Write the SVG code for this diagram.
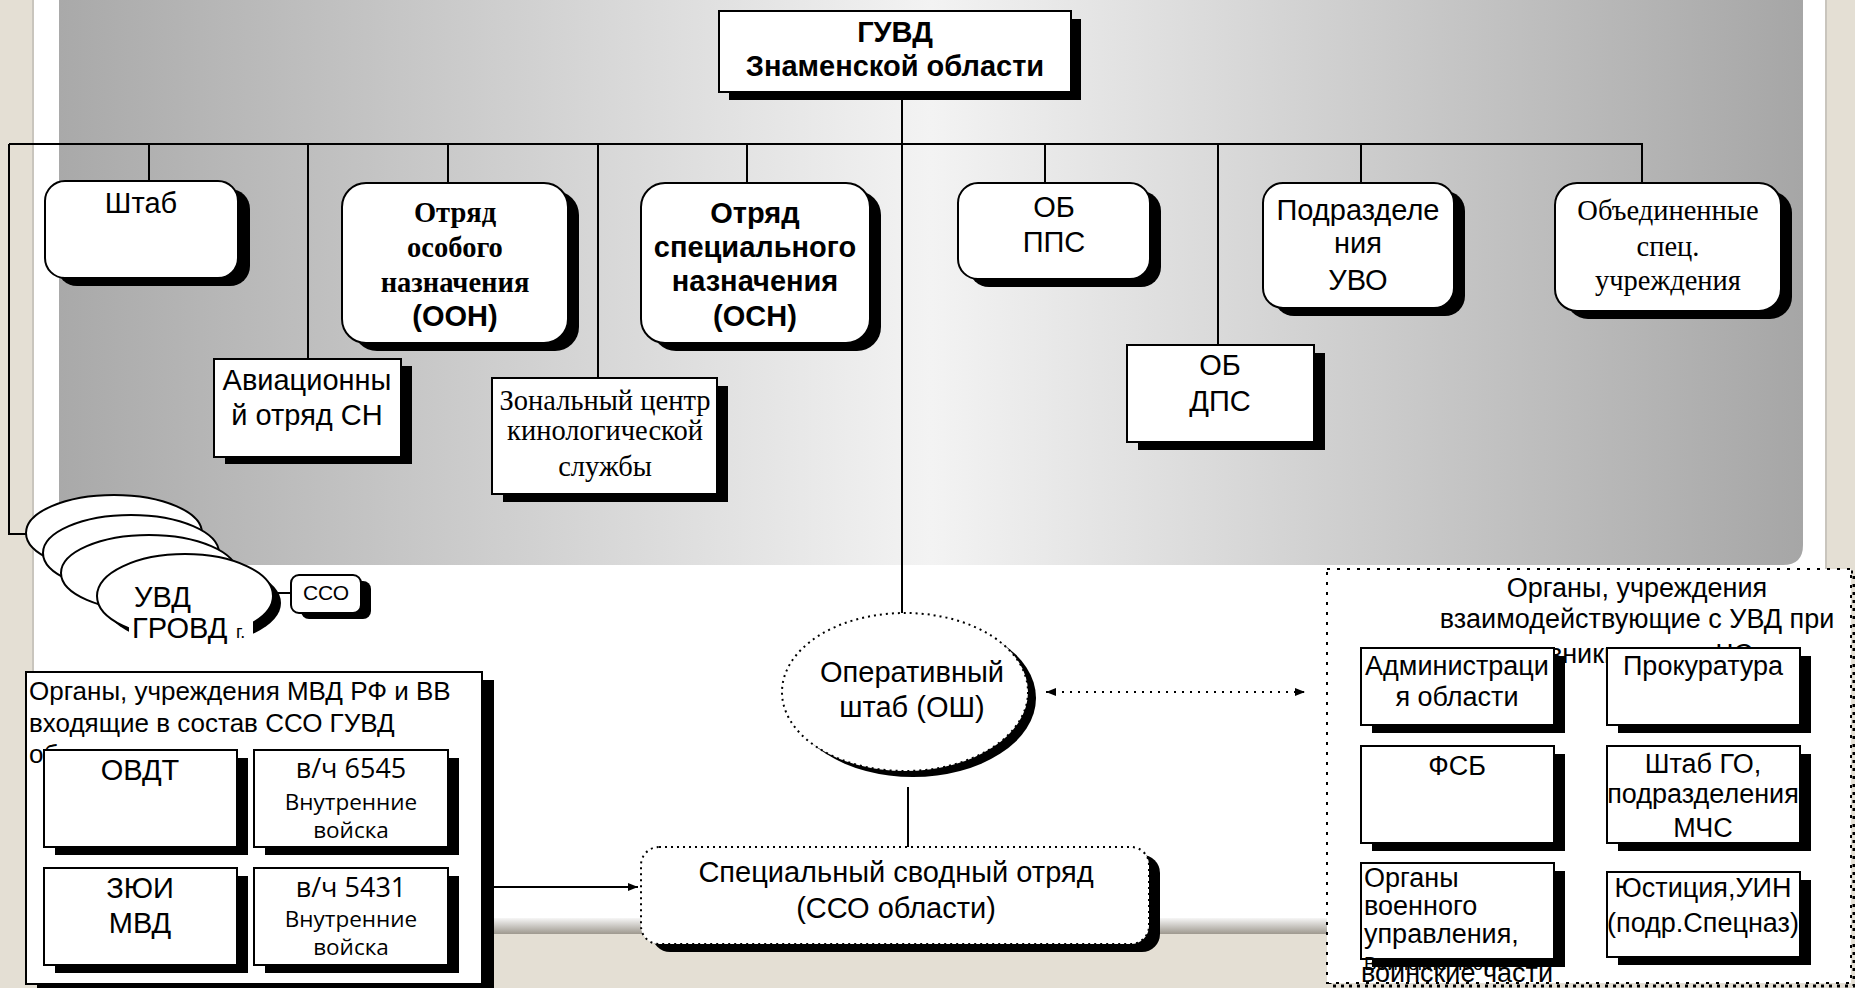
<svg xmlns="http://www.w3.org/2000/svg" width="1855" height="988" viewBox="0 0 1855 988">
<defs>
<linearGradient id="panel" x1="0" y1="0" x2="1" y2="0">
<stop offset="0" stop-color="#a9a9a9"/>
<stop offset="0.5" stop-color="#f3f3f3"/>
<stop offset="1" stop-color="#a6a6a6"/>
</linearGradient>
<linearGradient id="btm" x1="0" y1="0" x2="0" y2="1">
<stop offset="0" stop-color="#f6f6f6"/>
<stop offset="1" stop-color="#9e998f"/>
</linearGradient>
<marker id="ah" viewBox="0 0 10 8" refX="10" refY="4" markerWidth="10" markerHeight="8" markerUnits="userSpaceOnUse" orient="auto-start-reverse">
<path d="M0,0 L10,4 L0,8 Z" fill="#000"/>
</marker>
<style>
.box{fill:#fff;stroke:#000;stroke-width:2}
.dot{fill:#fff;stroke:#000;stroke-width:2;stroke-dasharray:2 4}
.sh{fill:#000}
.ln{stroke:#000;stroke-width:2;fill:none}
.dl{stroke:#000;stroke-width:2;fill:none;stroke-dasharray:2 6}
text{fill:#000}
.s{font-family:"Liberation Sans",Arial,sans-serif;font-size:29px;text-anchor:middle}
.sb{font-family:"Liberation Sans",Arial,sans-serif;font-size:29px;font-weight:bold;text-anchor:middle}
.r{font-family:"Liberation Serif","Times New Roman",serif;font-size:28.5px;text-anchor:middle}
.rb{font-family:"Liberation Serif","Times New Roman",serif;font-size:28.5px;font-weight:bold;text-anchor:middle}
.m{font-family:"Liberation Sans",Arial,sans-serif;font-size:27px;text-anchor:middle}
.c{font-family:"Open Sans","Noto Sans",sans-serif;text-anchor:middle}
</style>
</defs>

<!-- background -->
<rect x="0" y="0" width="1855" height="988" fill="#e4dfd4"/>
<rect x="33" y="0" width="1792" height="918" fill="#fff"/>
<rect x="33" y="918" width="1792" height="16" fill="url(#btm)"/>
<line x1="33" y1="0" x2="33" y2="934" stroke="#c9c5bd" stroke-width="2"/>
<line x1="1826" y1="0" x2="1826" y2="934" stroke="#c9c5bd" stroke-width="2"/>
<path d="M59,0 H1803 V545 Q1803,565 1783,565 H59 Z" fill="url(#panel)"/>

<!-- connectors -->
<g id="connectors">
<line class="ln" x1="9" y1="144" x2="1642" y2="144"/>
<line class="ln" x1="902" y1="92" x2="902" y2="613"/>
<polyline class="ln" points="9,144 9,534 26,534"/>
<line class="ln" x1="149" y1="144" x2="149" y2="181"/>
<line class="ln" x1="308" y1="144" x2="308" y2="359"/>
<line class="ln" x1="448" y1="144" x2="448" y2="183"/>
<line class="ln" x1="598" y1="144" x2="598" y2="378"/>
<line class="ln" x1="747" y1="144" x2="747" y2="183"/>
<line class="ln" x1="1045" y1="144" x2="1045" y2="183"/>
<line class="ln" x1="1218" y1="144" x2="1218" y2="345"/>
<line class="ln" x1="1361" y1="144" x2="1361" y2="183"/>
<line class="ln" x1="1642" y1="143" x2="1642" y2="183"/>
<line class="ln" x1="273" y1="593" x2="291" y2="593"/>
<line class="ln" x1="908" y1="787" x2="908" y2="847"/>
<line class="ln" x1="482" y1="887" x2="638" y2="887" marker-end="url(#ah)"/>
<line class="dl" x1="1046" y1="692" x2="1305" y2="692" marker-start="url(#ah)" marker-end="url(#ah)"/>
</g>

<g id="guvd">
<rect class="sh" x="729" y="19" width="352" height="81"/>
<rect class="box" x="719" y="11" width="352" height="81"/>
<text class="sb" x="895" y="42">ГУВД</text>
<text class="sb" x="895" y="76">Знаменской области</text>
</g>

<g id="shtab">
<rect class="sh" x="57" y="189" width="193" height="97" rx="20"/>
<rect class="box" x="45" y="181" width="193" height="97" rx="20"/>
<text class="s" x="141" y="213">Штаб</text>
</g>

<g id="oon">
<rect class="sh" x="353" y="191" width="226" height="160" rx="24"/>
<rect class="box" x="342" y="183" width="226" height="160" rx="24"/>
<text class="rb" x="455" y="222">Отряд</text>
<text class="rb" x="455" y="257">особого</text>
<text class="rb" x="455" y="292">назначения</text>
<text class="sb" x="455" y="326">(ООН)</text>
</g>

<g id="osn">
<rect class="sh" x="652" y="191" width="229" height="160" rx="24"/>
<rect class="box" x="641" y="183" width="229" height="160" rx="24"/>
<text class="sb" x="755" y="223">Отряд</text>
<text class="sb" x="755" y="257">специального</text>
<text class="sb" x="755" y="291">назначения</text>
<text class="sb" x="755" y="326">(ОСН)</text>
</g>

<g id="obpps">
<rect class="sh" x="969" y="191" width="192" height="96" rx="20"/>
<rect class="box" x="958" y="183" width="192" height="96" rx="20"/>
<text class="s" x="1054" y="217">ОБ</text>
<text class="s" x="1054" y="252">ППС</text>
</g>

<g id="uvo">
<rect class="sh" x="1274" y="191" width="191" height="125" rx="20"/>
<rect class="box" x="1263" y="183" width="191" height="125" rx="20"/>
<text class="s" x="1358" y="220">Подразделе</text>
<text class="s" x="1358" y="253">ния</text>
<text class="s" x="1358" y="290">УВО</text>
</g>

<g id="obspec">
<rect class="sh" x="1566" y="191" width="226" height="128" rx="22"/>
<rect class="box" x="1555" y="183" width="226" height="128" rx="22"/>
<text class="r" x="1668" y="220">Объединенные</text>
<text class="r" x="1668" y="256">спец.</text>
<text class="r" x="1668" y="290">учреждения</text>
</g>

<g id="avia">
<rect class="sh" x="225" y="366" width="187" height="98"/>
<rect class="box" x="214" y="359" width="187" height="98"/>
<text class="s" x="307" y="390">Авиационны</text>
<text class="s" x="307" y="425">й отряд СН</text>
</g>

<g id="kinolog">
<rect class="sh" x="503" y="386" width="225" height="116"/>
<rect class="box" x="492" y="378" width="225" height="116"/>
<text class="r" x="605" y="410">Зональный центр</text>
<text class="r" x="605" y="440">кинологической</text>
<text class="r" x="605" y="476">службы</text>
</g>

<g id="obdps">
<rect class="sh" x="1138" y="353" width="187" height="97"/>
<rect class="box" x="1127" y="345" width="187" height="97"/>
<text class="s" x="1220" y="375">ОБ</text>
<text class="s" x="1220" y="411">ДПС</text>
</g>

<g id="uvd">
<ellipse class="box" cx="114" cy="533" rx="88" ry="38"/>
<ellipse class="box" cx="131" cy="553" rx="88" ry="38"/>
<ellipse class="box" cx="149" cy="573" rx="88" ry="38"/>
<ellipse class="sh" cx="193" cy="603" rx="88" ry="42"/>
<ellipse class="box" cx="185" cy="596" rx="88" ry="42"/>
<rect x="129" y="612" width="124" height="36" fill="#fff"/>
<text class="s" x="134" y="607" style="text-anchor:start">УВД</text>
<text class="s" x="132" y="638" style="text-anchor:start">ГРОВД</text>
<text class="s" x="236" y="638" style="text-anchor:start;font-size:18px">г.</text>
</g>

<g id="sso-small">
<rect class="sh" x="301" y="581" width="70" height="38" rx="8"/>
<rect class="box" x="291" y="575" width="70" height="38" rx="8"/>
<text class="s" x="326" y="600" style="font-size:21px">ССО</text>
</g>

<g id="mvd">
<rect class="sh" x="37" y="680" width="457" height="312"/>
<rect class="box" x="26" y="672" width="456" height="312"/>
<text class="s" x="29" y="700" style="text-anchor:start;font-size:26px">Органы, учреждения МВД РФ и ВВ</text>
<text class="s" x="29" y="732" style="text-anchor:start;font-size:26px">входящие в состав ССО ГУВД</text>
<text class="s" x="29" y="763" style="text-anchor:start;font-size:26px">области</text>
</g>

<g id="ovdt">
<rect class="sh" x="55" y="758" width="193" height="97"/>
<rect class="box" x="44" y="750" width="193" height="97"/>
<text class="s" x="140" y="780">ОВДТ</text>
</g>

<g id="vch6545">
<rect class="sh" x="265" y="758" width="194" height="97"/>
<rect class="box" x="254" y="750" width="194" height="97"/>
<text class="c" x="351" y="778" style="font-size:27px">в/ч 6545</text>
<text class="c" x="351" y="810" style="font-size:22.5px">Внутренние</text>
<text class="c" x="351" y="838" style="font-size:22.5px">войска</text>
</g>

<g id="zyui">
<rect class="sh" x="55" y="876" width="193" height="97"/>
<rect class="box" x="44" y="868" width="193" height="97"/>
<text class="s" x="140" y="898">ЗЮИ</text>
<text class="s" x="140" y="933">МВД</text>
</g>

<g id="vch5431">
<rect class="sh" x="265" y="876" width="194" height="97"/>
<rect class="box" x="254" y="868" width="194" height="97"/>
<text class="c" x="351" y="897" style="font-size:27px">в/ч 5431</text>
<text class="c" x="351" y="927" style="font-size:22.5px">Внутренние</text>
<text class="c" x="351" y="955" style="font-size:22.5px">войска</text>
</g>

<g id="osh">
<ellipse class="sh" cx="913" cy="698" rx="123" ry="79"/>
<ellipse class="dot" cx="905" cy="692" rx="123" ry="79"/>
<text class="s" x="912" y="682">Оперативный</text>
<text class="s" x="912" y="717">штаб (ОШ)</text>
</g>

<g id="sso-obl">
<rect class="sh" x="652" y="855" width="508" height="97" rx="18"/>
<rect class="dot" x="641" y="847" width="508" height="97" rx="18"/>
<text class="s" x="896" y="882">Специальный сводный отряд</text>
<text class="s" x="896" y="918">(ССО области)</text>
</g>

<g id="vzaimo">
<rect x="1330" y="572" width="524" height="414" fill="none" stroke="#000" stroke-width="3" stroke-dasharray="3 5"/>
<rect x="1327" y="569" width="524" height="414" fill="#fff" stroke="#000" stroke-width="2" stroke-dasharray="3 7"/>
<text class="m" x="1637" y="597">Органы, учреждения</text>
<text class="m" x="1637" y="628">взаимодействующие с УВД при</text>
<text class="m" x="1637" y="663">возникновении ЧС</text>
</g>

<g id="admin">
<rect class="sh" x="1372" y="656" width="193" height="77"/>
<rect class="box" x="1361" y="648" width="193" height="77"/>
<text class="m" x="1457" y="675">Администраци</text>
<text class="m" x="1457" y="706">я области</text>
</g>

<g id="prokur">
<rect class="sh" x="1618" y="656" width="193" height="77"/>
<rect class="box" x="1607" y="648" width="193" height="77"/>
<text class="m" x="1703" y="675">Прокуратура</text>
</g>

<g id="fsb">
<rect class="sh" x="1372" y="754" width="193" height="97"/>
<rect class="box" x="1361" y="746" width="193" height="97"/>
<text class="m" x="1457" y="775">ФСБ</text>
</g>

<g id="mchs">
<rect class="sh" x="1618" y="754" width="193" height="97"/>
<rect class="box" x="1607" y="746" width="193" height="97"/>
<text class="m" x="1703" y="773">Штаб ГО,</text>
<text class="m" x="1703" y="803">подразделения</text>
<text class="m" x="1703" y="837">МЧС</text>
</g>

<g id="voen">
<rect class="sh" x="1372" y="871" width="193" height="96"/>
<rect class="box" x="1361" y="863" width="193" height="96"/>
<text class="m" x="1364" y="887" style="text-anchor:start">Органы</text>
<text class="m" x="1364" y="915" style="text-anchor:start">военного</text>
<text class="m" x="1364" y="943" style="text-anchor:start">управления,</text>
<text class="m" x="1364" y="970" style="text-anchor:start;font-size:19px">Воинские части</text>
<text class="m" x="1457" y="982">воинские части</text>
</g>

<g id="justice">
<rect class="sh" x="1618" y="880" width="193" height="85"/>
<rect class="box" x="1607" y="872" width="193" height="85"/>
<text class="m" x="1703" y="897">Юстиция,УИН</text>
<text class="m" x="1703" y="932">(подр.Спецназ)</text>
</g>
</svg>
